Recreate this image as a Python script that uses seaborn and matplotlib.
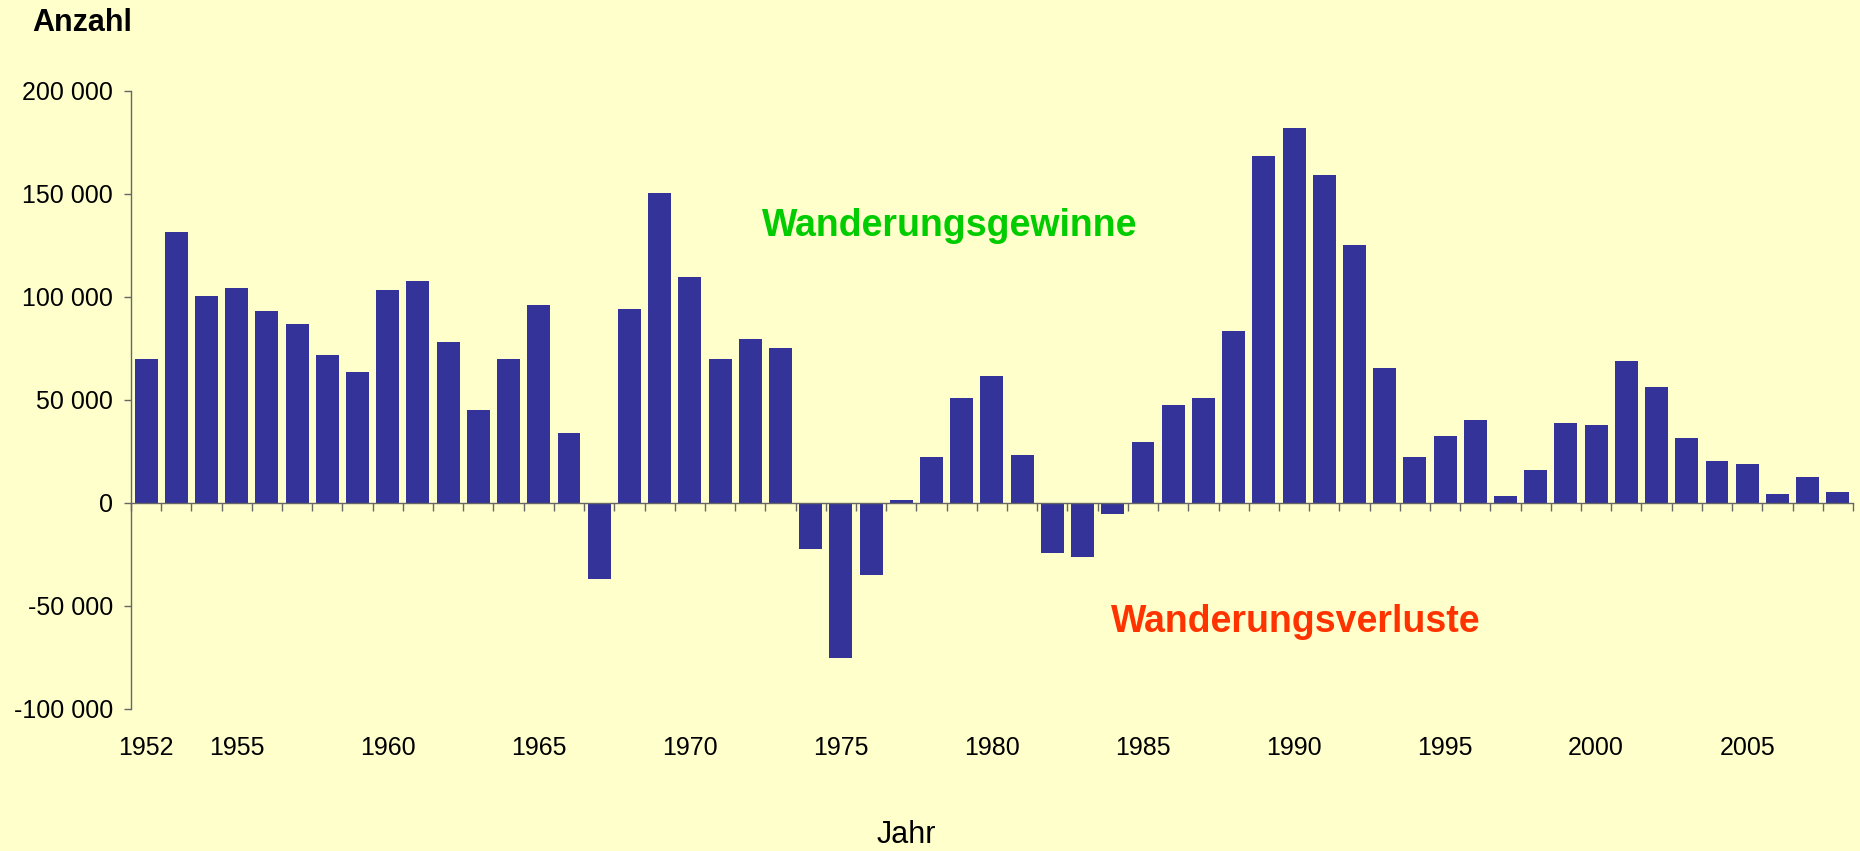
import numpy as np
import pandas as pd
import matplotlib
matplotlib.use("Agg")
import matplotlib.pyplot as plt
import matplotlib.transforms as mtransforms
import seaborn as sns

# Wanderungssaldo je Jahr
years = list(range(1952, 2009))
saldo = [70000, 131500, 100500, 104400, 93200, 86900, 71800, 63600, 103400, 107800,
         78200, 45000, 70000, 96100, 34000, -37100, 94200, 150500, 109700, 70000,
         79600, 75200, -22500, -75100, -35000, 1500, 22500, 51000, 61650, 23200,
         -24300, -26200, -5400, 29600, 47500, 51000, 83500, 168400, 182000, 159200,
         125200, 65500, 22500, 32500, 40200, 3400, 16100, 38700, 37700, 68900,
         56300, 31500, 20500, 19000, 4400, 12700, 5400]
label_years = [1952, 1955, 1960, 1965, 1970, 1975, 1980, 1985, 1990, 1995, 2000, 2005]
y_ticks = [-100000, -50000, 0, 50000, 100000, 150000, 200000]
y_labels = ["-100 000", "-50 000", "0", "50 000", "100 000", "150 000", "200 000"]

sns.set_style("white")
plt.rcParams['font.family'] = ['Liberation Sans', 'DejaVu Sans']
plt.rcParams['text.color'] = 'black'
plt.rcParams['ytick.labelcolor'] = 'black'

bg = '#FFFFCC'
axis_col = '#666666'

fig = plt.figure(figsize=(18.6, 8.51), dpi=100, facecolor=bg)
ax = fig.add_axes([0.0704, 0.1669, 0.9258, 0.7262], facecolor=bg)

df = pd.DataFrame({'Jahr': [str(y) for y in years], 'Saldo': saldo})
sns.barplot(data=df, x='Jahr', y='Saldo', color='#333399', saturation=1,
            width=0.76, errorbar=None, linewidth=0, edgecolor='none', ax=ax)

ax.set_xlim(-0.5, len(years) - 0.5)
ax.set_ylim(-100000, 200000)
ax.set_yticks(y_ticks)
ax.set_yticklabels(y_labels, fontsize=18, color='black')
ax.set_xlabel('')
ax.set_ylabel('')

# zero line with ticks between the bars
ax.spines['top'].set_visible(False)
ax.spines['right'].set_visible(False)
ax.spines['bottom'].set_position(('data', 0))
for s in ['left', 'bottom']:
    ax.spines[s].set_color(axis_col)
    ax.spines[s].set_linewidth(1.0)
ax.set_xticks(np.arange(-0.5, len(years), 1.0))
ax.set_xticklabels([])
ax.tick_params(axis='x', direction='out', length=6, width=1, color=axis_col, bottom=True)
ax.tick_params(axis='y', direction='out', length=5, width=1, color=axis_col, left=True, pad=8)

# year labels below the plot area
trans = mtransforms.blended_transform_factory(ax.transData, ax.transAxes)
for y in label_years:
    ax.text(years.index(y), -0.063, str(y), transform=trans, ha='center', va='center',
            fontsize=18, color='black')

fig.text(32 / 1860, 1 - 31 / 851, 'Anzahl', fontsize=22, fontweight='bold',
         color='black', ha='left', va='baseline')
fig.text(950 / 1860, 1 - 236 / 851, 'Wanderungsgewinne', fontsize=27, fontweight='bold',
         color='#00CC00', ha='center', va='baseline')
fig.text(1296 / 1860, 1 - 632 / 851, 'Wanderungsverluste', fontsize=27, fontweight='bold',
         color='#FF3300', ha='center', va='baseline')
fig.text(906 / 1860, 1 - 843 / 851, 'Jahr', fontsize=22, color='black',
         ha='center', va='baseline')

fig.savefig('out.png', dpi=100, facecolor=bg)
